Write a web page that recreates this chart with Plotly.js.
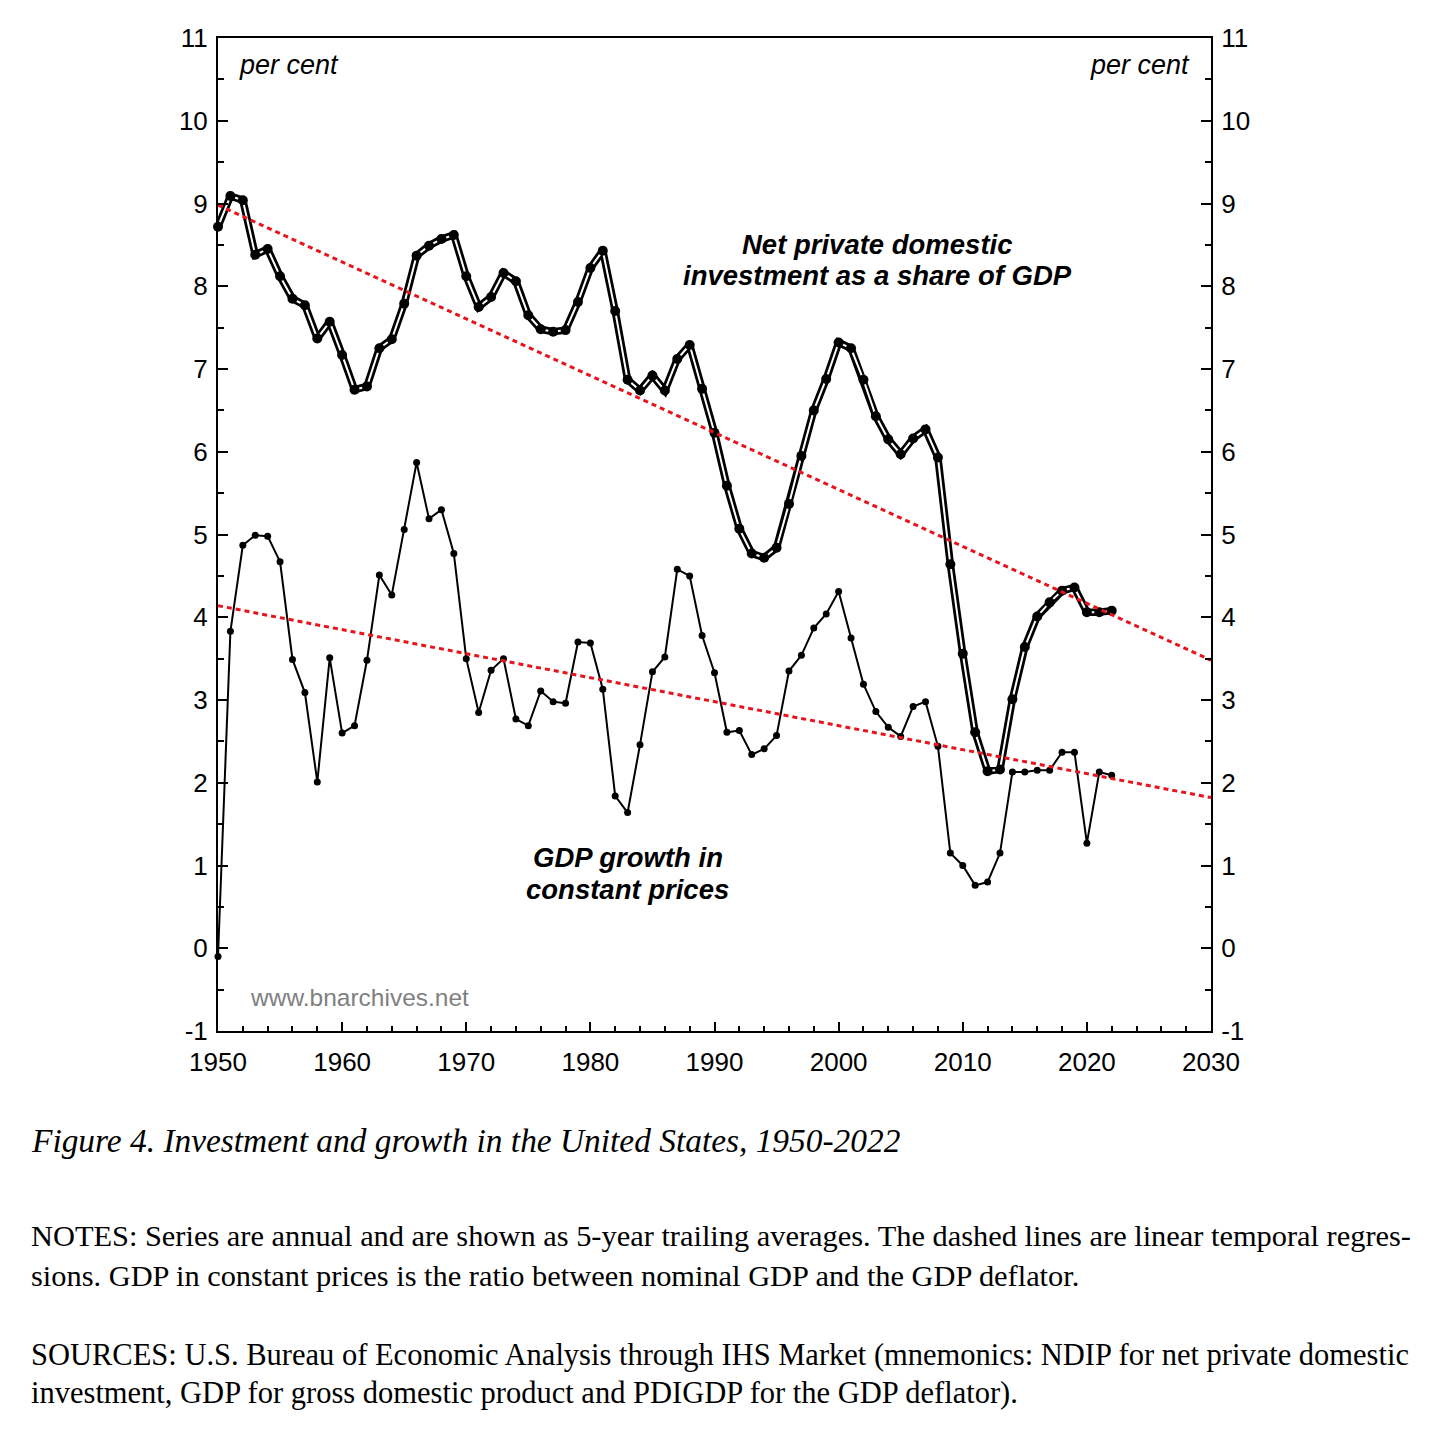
<!DOCTYPE html>
<html>
<head>
<meta charset="utf-8">
<script src="https://cdn.plot.ly/plotly-3.0.1.min.js"></script>
<style>
  html, body { margin: 0; padding: 0; background: #ffffff; }
  #chart { width: 1430px; height: 1434px; }
</style>
</head>
<body>
<div id="chart"></div>
<script>
// ---- Data ----
const years = [
  1950,1951,1952,1953,1954,1955,1956,1957,1958,1959,
  1960,1961,1962,1963,1964,1965,1966,1967,1968,1969,
  1970,1971,1972,1973,1974,1975,1976,1977,1978,1979,
  1980,1981,1982,1983,1984,1985,1986,1987,1988,1989,
  1990,1991,1992,1993,1994,1995,1996,1997,1998,1999,
  2000,2001,2002,2003,2004,2005,2006,2007,2008,2009,
  2010,2011,2012,2013,2014,2015,2016,2017,2018,2019,
  2020,2021,2022
];

// Net private domestic investment as a share of GDP (%), 5-yr trailing avg
const investmentShare = [
  8.72,9.09,9.04,8.38,8.45,8.12,7.85,7.77,7.37,7.57,
  7.17,6.75,6.79,7.25,7.36,7.79,8.37,8.49,8.57,8.62,
  8.12,7.75,7.87,8.16,8.06,7.65,7.48,7.45,7.47,7.81,
  8.22,8.43,7.70,6.87,6.74,6.92,6.74,7.12,7.29,6.76,
  6.23,5.59,5.07,4.77,4.72,4.84,5.37,5.95,6.50,6.88,
  7.32,7.25,6.87,6.43,6.15,5.97,6.16,6.27,5.93,4.64,
  3.56,2.61,2.14,2.16,3.01,3.64,4.01,4.18,4.32,4.36,
  4.06,4.06,4.08
];

// GDP growth in constant prices (%), 5-yr trailing avg
const gdpGrowth = [
  -0.10,3.83,4.87,4.99,4.98,4.67,3.49,3.09,2.01,3.51,
  2.60,2.69,3.48,4.51,4.27,5.06,5.87,5.19,5.30,4.77,
  3.50,2.85,3.36,3.50,2.77,2.69,3.11,2.98,2.96,3.70,
  3.69,3.13,1.84,1.64,2.46,3.34,3.52,4.58,4.50,3.78,
  3.33,2.61,2.63,2.34,2.41,2.57,3.35,3.54,3.87,4.04,
  4.31,3.75,3.19,2.86,2.67,2.56,2.92,2.98,2.44,1.15,
  1.00,0.76,0.80,1.15,2.13,2.13,2.15,2.15,2.37,2.37,
  1.27,2.13,2.09
];

// Linear temporal regression lines (end points)
const trendYears = [1950, 2030];
const investmentTrend = [8.98, 3.48];
const gdpTrend = [4.14, 1.82];

// Axis ticks
const yTickVals = [-1,0,1,2,3,4,5,6,7,8,9,10,11];
const yTickText = ['-1','0','1','2','3','4','5','6','7','8','9','10','11'];
const xTickVals = [1950,1960,1970,1980,1990,2000,2010,2020,2030];
const xTickText = ['1950','1960','1970','1980','1990','2000','2010','2020','2030'];

// Text
const unitLabel = 'per cent';
const investmentLabelLines = ['Net private domestic', 'investment as a share of GDP'];
const gdpLabelLines = ['GDP growth in', 'constant prices'];
const watermark = 'www.bnarchives.net';
const captionText = 'Figure 4. Investment and growth in the United States, 1950-2022';
const notesLines = [
  'NOTES: Series are annual and are shown as 5-year trailing averages. The dashed lines are linear temporal regres-',
  'sions. GDP in constant prices is the ratio between nominal GDP and the GDP deflator.'
];
const sourcesLines = [
  'SOURCES: U.S. Bureau of Economic Analysis through IHS Market (mnemonics: NDIP for net private domestic',
  'investment, GDP for gross domestic product and PDIGDP for the GDP deflator).'
];

// ---- Traces ----
const traces = [
  { // outer black casing of the investment line
    x: years, y: investmentShare, type: 'scatter', mode: 'lines',
    line: { color: '#000000', width: 7.5 }, cliponaxis: false,
    hoverinfo: 'skip', showlegend: false
  },
  { // inner white line + markers
    x: years, y: investmentShare, type: 'scatter', mode: 'lines+markers',
    line: { color: '#ffffff', width: 2 },
    marker: { color: '#000000', size: 10 }, cliponaxis: false,
    name: 'Net private domestic investment', showlegend: false
  },
  {
    x: years, y: gdpGrowth, type: 'scatter', mode: 'lines+markers',
    line: { color: '#000000', width: 2 },
    marker: { color: '#000000', size: 7 }, cliponaxis: false,
    name: 'GDP growth', showlegend: false
  },
  {
    x: trendYears, y: investmentTrend, type: 'scatter', mode: 'lines',
    line: { color: '#e8141c', width: 3, dash: '5px,4px' },
    hoverinfo: 'skip', showlegend: false
  },
  {
    x: trendYears, y: gdpTrend, type: 'scatter', mode: 'lines', yaxis: 'y2',
    line: { color: '#e8141c', width: 3, dash: '5px,4px' },
    hoverinfo: 'skip', showlegend: false
  }
];

const sans = 'Liberation Sans, Arial, sans-serif';
const serif = 'Liberation Serif, Times New Roman, serif';
const axisFont = { family: sans, size: 26, color: '#000000' };

const yCommon = {
  range: [-1, 11], tickmode: 'array', tickvals: yTickVals, ticktext: yTickText,
  ticks: 'inside', ticklen: 10, tickwidth: 2, tickcolor: '#000000',
  minor: { dtick: 0.5, tick0: 0, ticks: 'inside', ticklen: 6, tickwidth: 2, tickcolor: '#000000' },
  showline: true, linecolor: '#000000', linewidth: 2,
  showgrid: false, zeroline: false, tickfont: axisFont, ticklabelstandoff: 3,
  fixedrange: true
};

function dataText(x, y, text, size, anchor, color) {
  return { x: x, y: y, xref: 'x', yref: 'y', text: text, showarrow: false,
    xanchor: anchor, yanchor: 'middle', align: anchor === 'center' ? 'center' : 'left',
    font: { family: sans, size: size, color: color || '#000000' } };
}
function paperText(y, text, size) {
  return { x: -0.1903, y: y, xref: 'paper', yref: 'paper', text: text, showarrow: false,
    xanchor: 'left', yanchor: 'middle', align: 'left',
    font: { family: serif, size: size, color: '#000000' } };
}

const layout = {
  width: 1430, height: 1434,
  margin: { l: 218, r: 219, t: 38, b: 403, pad: 0 },
  paper_bgcolor: '#ffffff', plot_bgcolor: '#ffffff',
  showlegend: false,
  xaxis: {
    range: [1950, 2030], tickmode: 'array', tickvals: xTickVals, ticktext: xTickText,
    ticks: 'inside', ticklen: 9, tickwidth: 2, tickcolor: '#000000',
    minor: { dtick: 2, tick0: 1950, ticks: 'inside', ticklen: 5, tickwidth: 2, tickcolor: '#000000' },
    showline: true, mirror: true, linecolor: '#000000', linewidth: 2,
    showgrid: false, zeroline: false, tickfont: axisFont, ticklabelstandoff: 7,
    fixedrange: true
  },
  yaxis: Object.assign({}, yCommon, { side: 'left' }),
  yaxis2: Object.assign({}, yCommon, { side: 'right', overlaying: 'y' }),
  annotations: [
    dataText(1951.5, 10.67, '<i>' + unitLabel + '</i>', 27, 'left'),
    dataText(2028.5, 10.67, '<i>' + unitLabel + '</i>', 27, 'right'),
    dataText(2003.1, 8.50, '<b><i>' + investmentLabelLines[0] + '</i></b>', 27.5, 'center'),
    dataText(2003.1, 8.124, '<b><i>' + investmentLabelLines[1] + '</i></b>', 27.5, 'center'),
    dataText(1983.0, 1.091, '<b><i>' + gdpLabelLines[0] + '</i></b>', 27.5, 'center'),
    dataText(1983.0, 0.716, '<b><i>' + gdpLabelLines[1] + '</i></b>', 27.5, 'center'),
    dataText(1952.4, -0.60, watermark, 24.5, 'left', '#808080'),
    paperText(-0.1098, '<i>' + captionText + '</i>', 33.4),
    paperText(-0.2064, notesLines[0], 30.4),
    paperText(-0.2467, notesLines[1], 30.4),
    paperText(-0.3263, sourcesLines[0], 30.5),
    paperText(-0.3646, sourcesLines[1], 30.5)
  ]
};

Plotly.newPlot('chart', traces, layout, { displayModeBar: false, staticPlot: true });
</script>
</body>
</html>
